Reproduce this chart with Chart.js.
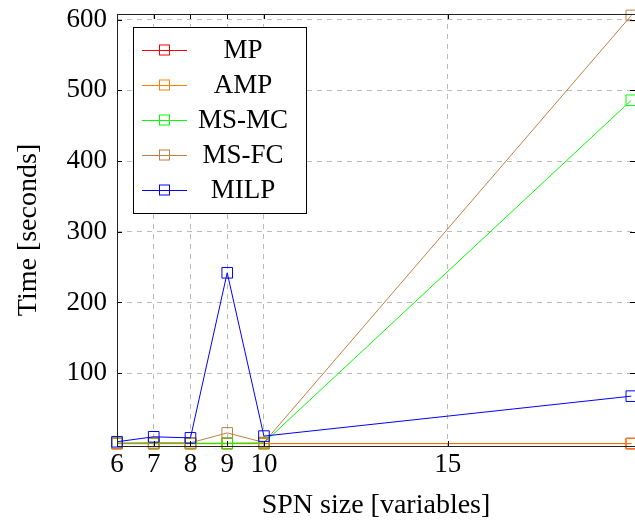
<!DOCTYPE html>
<html>
<head>
<meta charset="utf-8">
<script src="https://cdn.jsdelivr.net/npm/chart.js@4.4.1/dist/chart.umd.min.js"></script>
<style>
  html, body { margin: 0; padding: 0; background: #fff; }
  #wrap { width: 635px; height: 522px; }
</style>
</head>
<body>
<div id="wrap"><canvas id="chart" width="635" height="522"></canvas></div>
<script>
// data
const sizes = [6, 7, 8, 9, 10, 20]
const mp = [0.5, 0.5, 0.5, 0.5, 0.5, 0.5]
const amp = [0.3, 0.3, 0.3, 0.3, 0.3, 0.3]
const msmc = [1, 1, 1, 1, 1.5, 486]
const msfc = [1, 1.5, 1.5, 15.5, 2, 606]
const milp = [3, 10, 8.5, 242, 11, 67.5]
const xTicks = [6, 7, 8, 9, 10, 15]
const yTicks = [100, 200, 300, 400, 500, 600]

const names = ['MP', 'AMP', 'MS-MC', 'MS-FC', 'MILP']
const series = [mp, amp, msmc, msfc, milp]
const colors = ['#ff0000', '#ff8000', '#00ff00', '#bf8040', '#0000ff']

const serif = '"Liberation Serif", "DejaVu Serif", serif'

const datasets = series.map((vals, i) => ({
  label: names[i],
  data: vals.map((v, j) => ({ x: sizes[j], y: v })),
  borderColor: colors[i],
  backgroundColor: 'rgba(0,0,0,0)',
  borderWidth: 1,
  pointStyle: 'rect',
  pointRadius: 7.5,
  pointHoverRadius: 7.5,
  pointBorderWidth: 1,
  pointBorderColor: colors[i],
  pointBackgroundColor: 'rgba(0,0,0,0)',
  tension: 0,
  order: names.length - i,
  clip: false,
}))

// box, inner ticks and the legend, drawn the pgfplots way
const framePlugin = {
  id: 'frame',
  afterDatasetsDraw(chart) {
    const { ctx, chartArea: a, scales } = chart
    ctx.save()
    ctx.strokeStyle = '#000'
    ctx.lineWidth = 1
    ctx.beginPath()
    xTicks.forEach((t) => {
      const px = Math.round(scales.x.getPixelForValue(t)) + 0.5
      ctx.moveTo(px, a.bottom); ctx.lineTo(px, a.bottom - 5)
      ctx.moveTo(px, a.top); ctx.lineTo(px, a.top + 5)
    })
    yTicks.forEach((t) => {
      const py = Math.round(scales.y.getPixelForValue(t)) + 0.5
      ctx.moveTo(a.left, py); ctx.lineTo(a.left + 5, py)
      ctx.moveTo(a.right, py); ctx.lineTo(a.right - 5, py)
    })
    ctx.stroke()
    ctx.strokeStyle = '#222'
    ctx.strokeRect(Math.round(a.left) + 0.5, Math.round(a.top) + 0.5,
      Math.round(a.right - a.left), Math.round(a.bottom - a.top))

    // legend
    const lx = 133.5, ly = 27.5, lw = 173, lh = 186
    ctx.fillStyle = '#fff'
    ctx.fillRect(lx, ly, lw, lh)
    ctx.strokeStyle = '#000'
    ctx.strokeRect(lx, ly, lw, lh)
    ctx.font = '27px ' + serif
    ctx.textAlign = 'center'
    ctx.textBaseline = 'middle'
    names.forEach((n, i) => {
      const y = 50 + i * 35
      ctx.strokeStyle = colors[i]
      ctx.beginPath()
      ctx.moveTo(142, y + 0.5); ctx.lineTo(187, y + 0.5)
      ctx.stroke()
      ctx.strokeRect(159.5, y - 5, 10, 10)
      ctx.fillStyle = '#000'
      ctx.fillText(n, 243, y + 1)
    })
    ctx.restore()
  },
}

new Chart(document.getElementById('chart'), {
  type: 'line',
  data: { datasets },
  options: {
    responsive: false,
    animation: false,
    layout: { autoPadding: false, padding: 0 },
    plugins: { legend: { display: false }, tooltip: { enabled: false } },
    scales: {
      x: {
        type: 'linear',
        min: 6,
        max: 20.1,
        afterBuildTicks: (s) => { s.ticks = xTicks.map((v) => ({ value: v })) },
        afterFit: (s) => { s.height = 76 },
        grid: { color: '#bbbbbb', lineWidth: 1, drawTicks: false },
        border: { display: false, dash: [5, 5] },
        ticks: { color: '#000', font: { family: serif, size: 27 }, padding: 3, maxRotation: 0 },
        title: {
          display: true, text: 'SPN size [variables]', color: '#000',
          font: { family: serif, size: 28 }, padding: { top: 0, bottom: 0 },
        },
      },
      y: {
        min: -3,
        max: 608,
        afterBuildTicks: (s) => { s.ticks = yTicks.map((v) => ({ value: v })) },
        afterFit: (s) => { s.width = 117; s.paddingTop = 14 },
        grid: { color: '#bbbbbb', lineWidth: 1, drawTicks: false },
        border: { display: false, dash: [5, 5] },
        ticks: { color: '#000', font: { family: serif, size: 27 }, padding: 10 },
        title: {
          display: true, text: 'Time [seconds]', color: '#000',
          font: { family: serif, size: 28 }, padding: { top: 12, bottom: 0 },
        },
      },
    },
  },
  plugins: [framePlugin],
})
</script>
</body>
</html>
